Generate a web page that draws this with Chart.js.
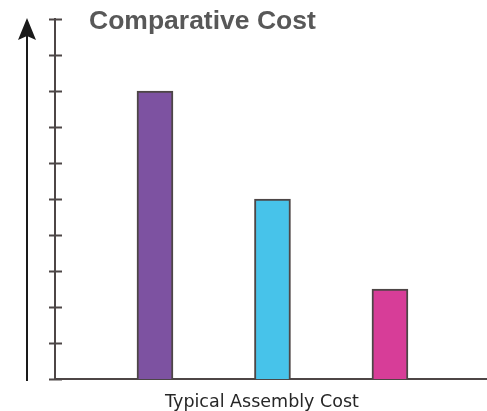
<!DOCTYPE html>
<html>
<head>
<meta charset="utf-8">
<title>Comparative Cost</title>
<script src="https://cdn.jsdelivr.net/npm/chart.js@4/dist/chart.umd.min.js"></script>
<style>
  html, body { margin: 0; padding: 0; background: #ffffff; }
  #wrap { width: 487px; height: 411px; position: relative; }
</style>
</head>
<body>
<div id="wrap"><canvas id="chart"></canvas></div>
<script>
// Cost categories (slot index along the x axis) and their relative cost
const categories = ['Option A', 'Option B', 'Option C'];
const costValues = [8, 5, 2.5];
const barColors = ['#7d52a1', '#47c3ea', '#d73d98'];
const yTickValues = [0, 1, 2, 3, 4, 5, 6, 7, 8, 9, 10];
const chartTitle = 'Comparative Cost';
const xAxisTitle = 'Typical Assembly Cost';

const axisColor = '#4d4646';

// Short tick marks that straddle the y axis, an arrow to the left, and the text
const decorations = {
  id: 'decorations',
  afterDraw(chart) {
    const { ctx, chartArea, scales } = chart;
    const y = scales.y;
    ctx.save();

    // tick marks across the axis line
    ctx.strokeStyle = axisColor;
    ctx.lineWidth = 2;
    y.ticks.forEach(t => {
      const py = Math.round(y.getPixelForValue(t.value)) + 0.5;
      ctx.beginPath();
      ctx.moveTo(chartArea.left - 6, py);
      ctx.lineTo(chartArea.left + 7, py);
      ctx.stroke();
    });

    // upward arrow
    const ax = 27;
    const top = y.getPixelForValue(10) - 1;
    ctx.strokeStyle = '#1a1a1a';
    ctx.fillStyle = '#1a1a1a';
    ctx.lineWidth = 2;
    ctx.beginPath();
    ctx.moveTo(ax, chartArea.bottom + 2);
    ctx.lineTo(ax, top + 18);
    ctx.stroke();
    ctx.beginPath();
    ctx.moveTo(ax, top);
    ctx.lineTo(ax - 9, top + 22);
    ctx.lineTo(ax, top + 18);
    ctx.lineTo(ax + 9, top + 22);
    ctx.closePath();
    ctx.fill();

    // chart title
    ctx.fillStyle = '#585858';
    ctx.font = 'bold 26.5px "Liberation Sans", Arial, sans-serif';
    ctx.textAlign = 'left';
    ctx.textBaseline = 'alphabetic';
    ctx.fillText(chartTitle, 89, 29);

    // x axis title
    ctx.fillStyle = '#262626';
    ctx.font = '17.5px "DejaVu Sans", sans-serif';
    ctx.textAlign = 'center';
    ctx.fillText(xAxisTitle, 262, 407);

    ctx.restore();
  }
};

new Chart(document.getElementById('chart'), {
  type: 'bar',
  data: {
    datasets: [{
      data: categories.map((c, i) => ({ x: i, y: costValues[i] })),
      backgroundColor: barColors,
      borderColor: axisColor,
      borderWidth: 2,
      borderSkipped: 'bottom',
      barThickness: 36
    }]
  },
  options: {
    responsive: true,
    maintainAspectRatio: false,
    animation: false,
    layout: { padding: { left: 55, top: 19, right: 0, bottom: 32 } },
    plugins: {
      legend: { display: false },
      tooltip: { enabled: false },
      title: { display: false }
    },
    scales: {
      x: {
        type: 'linear',
        offset: false,
        min: -0.851,
        max: 2.826,
        ticks: { display: false },
        grid: { display: false, drawTicks: false, offset: false },
        border: { display: true, color: axisColor, width: 2 }
      },
      y: {
        min: yTickValues[0],
        max: yTickValues[yTickValues.length - 1],
        afterBuildTicks(scale) {
          scale.ticks = yTickValues.map(v => ({ value: v }));
        },
        ticks: { display: false },
        grid: { display: false, drawTicks: false },
        border: { display: true, color: axisColor, width: 2 }
      }
    }
  },
  plugins: [decorations]
});
</script>
</body>
</html>
